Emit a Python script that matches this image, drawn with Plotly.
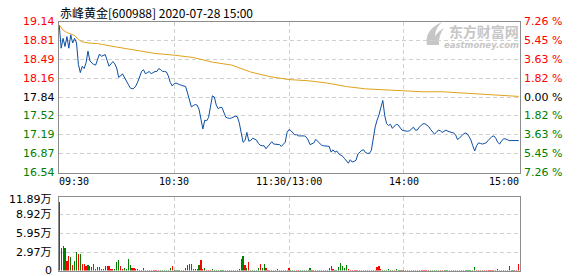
import plotly.graph_objects as go

# ---------------- data ----------------
title_text = "赤峰黄金[600988] 2020-07-28 15:00"
prev_close = 17.84
time_ticks = [0, 60, 120, 180, 240]
time_labels = ["09:30", "10:30", "11:30/13:00", "14:00", "15:00"]
price_ticks = [19.14, 18.81, 18.49, 18.16, 17.84, 17.52, 17.19, 16.87, 16.54]
pct_labels = ["7.26 %", "5.45 %", "3.63 %", "1.82 %", "0.00 %",
              "1.82 %", "3.63 %", "5.45 %", "7.26 %"]
vol_ticks = [0, 2.97, 5.95, 8.92, 11.89]
vol_labels = ["0", "2.97万", "5.95万", "8.92万", "11.89万"]

# minute-by-minute price, 09:30 .. 11:30 / 13:00 .. 15:00 (241 points)
price = [
    19.07, 18.68, 18.85, 18.71, 18.88, 18.68, 18.91, 18.77, 18.85, 18.77,
    18.40, 18.26, 18.37, 18.33, 18.43, 18.63, 18.46, 18.43, 18.40, 18.39,
    18.48, 18.58, 18.54, 18.56, 18.57, 18.47, 18.37, 18.41, 18.45, 18.41,
    18.34, 18.18, 18.20, 18.24, 18.17, 18.11, 18.06, 18.00, 17.98, 17.99,
    18.03, 18.10, 18.20, 18.28, 18.31, 18.24, 18.26, 18.28, 18.24, 18.26,
    18.28, 18.28, 18.33, 18.31, 18.28, 18.28, 18.27, 18.20, 18.09, 18.03,
    18.07, 18.08, 18.06, 18.05, 18.04, 18.03, 18.02, 17.91, 17.78, 17.67,
    17.69, 17.71, 17.70, 17.63, 17.46, 17.29, 17.44, 17.43, 17.49, 17.69,
    17.86, 17.84, 17.70, 17.64, 17.66, 17.66, 17.57, 17.49, 17.48, 17.47,
    17.48, 17.49, 17.51, 17.50, 17.40, 17.23, 17.06, 17.09, 17.23, 17.08,
    17.09, 17.13, 17.11, 17.10, 17.04, 17.01, 17.00, 17.00, 16.95, 16.99,
    17.05, 17.07, 17.03, 17.03, 17.03, 17.02, 16.99, 17.02, 17.06, 17.23,
    17.28, 17.26, 17.23, 17.19, 17.19, 17.17, 17.17, 17.17, 17.17, 17.15,
    17.10, 17.02, 17.03, 17.05, 17.11, 17.08, 17.05, 17.01, 17.00, 17.00,
    17.00, 16.99, 16.89, 16.93, 16.89, 16.91, 16.86, 16.84, 16.82, 16.78,
    16.73, 16.70, 16.76, 16.72, 16.73, 16.75, 16.86, 16.89, 16.92, 16.93,
    16.88, 16.87, 16.87, 16.92, 17.15, 17.32, 17.44, 17.53, 17.66, 17.78,
    17.52, 17.38, 17.35, 17.37, 17.30, 17.33, 17.37, 17.36, 17.32, 17.27,
    17.26, 17.25, 17.25, 17.26, 17.30, 17.32, 17.27, 17.27, 17.32, 17.36,
    17.38, 17.38, 17.36, 17.33, 17.28, 17.23, 17.20, 17.23, 17.27, 17.26,
    17.23, 17.25, 17.27, 17.25, 17.24, 17.23, 17.22, 17.19, 17.11, 17.13,
    17.17, 17.20, 17.22, 17.21, 17.16, 17.10, 17.00, 16.91, 17.00, 17.05,
    17.04, 17.03, 17.04, 17.05, 17.09, 17.12, 17.16, 17.17, 17.13, 17.06,
    17.03, 17.08, 17.12, 17.12, 17.10, 17.09, 17.09, 17.09, 17.09, 17.09,
    17.09,
]

# average-price line, read at these minutes
avg_minutes = [0, 2, 4, 6, 8, 10, 12, 15, 20, 30, 40, 50, 60, 70, 80, 90, 100,
               110, 120, 130, 140, 150, 160, 170, 180, 190, 200, 210, 220, 230, 240]
avg_price = [19.08, 18.99, 18.95, 18.93, 18.90, 18.83, 18.79, 18.77, 18.76, 18.70,
             18.64, 18.59, 18.56, 18.52, 18.44, 18.39, 18.27, 18.19, 18.14, 18.12,
             18.08, 18.02, 17.98, 17.96, 17.95, 17.93, 17.93, 17.91, 17.90, 17.88,
             17.85]

# minute volume in 万 shares
volume = [
    11.0, 3.6, 3.9, 3.6, 1.6, 2.4, 2.1, 0.9, 1.6, 2.9,
    2.7, 2.6, 1.1, 1.1, 0.8, 0.9, 0.8, 0.6, 1.0, 0.3,
    0.6, 0.6, 0.3, 0.3, 0.7, 0.8, 0.8, 0.2, 0.3, 0.3,
    1.3, 1.7, 0.8, 0.3, 0.45, 0.3, 1.9, 0.9, 0.45, 0.45,
    0.3, 0.3, 0.15, 0.15, 0.45, 0.15, 0.15, 0.15, 0.15, 0.15,
    0.15, 0.15, 0.15, 0.15, 0.15, 0.15, 0.15, 0.15, 0.45, 0.65,
    0.15, 0.15, 0.15, 0.15, 0.15, 0.15, 0.45, 0.9, 1.1, 1.1,
    0.3, 0.2, 0.3, 0.9, 1.75, 0.3, 0.45, 0.15, 0.15, 0.15,
    0.3, 0.15, 0.15, 0.15, 0.15, 0.15, 0.15, 0.15, 0.15, 0.15,
    0.15, 0.15, 0.15, 0.15, 0.3, 1.9, 2.4, 0.9, 0.45, 1.4,
    0.15, 0.15, 0.15, 0.15, 0.45, 1.1, 0.45, 1.1, 0.45, 0.15,
    0.15, 0.15, 0.15, 0.15, 0.3, 0.15, 0.15, 0.15, 0.15, 0.15,
    0.45, 0.15, 0.15, 0.15, 0.15, 0.15, 0.15, 0.15, 0.15, 0.15,
    0.15, 0.45, 0.15, 0.15, 0.15, 0.15, 0.15, 0.15, 0.15, 0.15,
    0.15, 0.45, 0.8, 0.3, 0.15, 0.15, 0.6, 1.15, 0.65, 0.45,
    0.9, 0.3, 0.15, 0.15, 0.15, 0.15, 0.15, 0.15, 0.15, 0.15,
    0.15, 0.15, 0.15, 0.15, 0.15, 0.15, 0.6, 0.8, 0.3, 0.15,
    0.15, 0.15, 0.3, 0.15, 0.15, 0.15, 0.3, 0.15, 0.15, 0.15,
    0.15, 0.15, 0.15, 0.15, 0.15, 0.15, 0.15, 0.15, 0.15, 0.15,
    0.15, 0.15, 0.15, 0.15, 0.15, 0.15, 0.15, 0.15, 0.15, 0.15,
    0.15, 0.15, 0.15, 0.15, 0.15, 0.15, 0.15, 0.15, 0.15, 0.15,
    0.15, 0.15, 0.15, 0.15, 0.15, 0.15, 0.15, 0.5, 0.15, 0.15,
    0.15, 0.15, 0.15, 0.15, 0.15, 0.15, 0.15, 0.15, 0.15, 0.3,
    0.15, 0.15, 0.15, 0.15, 0.15, 0.65, 0.15, 0.15, 0.15, 0.15,
    1.1,
]
# 1 = price up (red), -1 = price down (green)
vol_dir = [
    -1, 1, 1, -1, 1, 1, -1, 1, -1, -1,
    1, -1, 1, 1, 1, -1, 1, -1, -1, 1,
    1, 1, 1, 1, -1, 1, 1, 1, 1, -1,
    -1, -1, 1, 1, -1, -1, -1, -1, 1, 1,
    1, 1, 1, 1, -1, -1, 1, 1, 1, 1,
    1, 1, 1, -1, -1, -1, -1, -1, -1, 1,
    -1, -1, -1, -1, 1, 1, -1, -1, -1, 1,
    1, -1, -1, -1, 1, 1, -1, 1, 1, 1,
    -1, -1, -1, -1, -1, -1, -1, 1, 1, 1,
    1, 1, 1, -1, -1, -1, -1, 1, -1, 1,
    -1, -1, -1, -1, -1, 1, -1, -1, 1, 1,
    1, -1, -1, 1, 1, -1, 1, 1, 1, 1,
    1, -1, -1, -1, 1, 1, -1, -1, -1, -1,
    -1, -1, 1, 1, -1, -1, -1, 1, 1, 1,
    1, -1, -1, 1, -1, -1, -1, -1, -1, -1,
    -1, 1, 1, 1, 1, 1, 1, 1, -1, -1,
    1, 1, 1, 1, 1, 1, 1, 1, 1, -1,
    -1, -1, -1, -1, -1, 1, -1, -1, -1, 1,
    1, 1, 1, 1, -1, -1, -1, -1, -1, -1,
    1, 1, 1, 1, -1, -1, -1, -1, -1, 1,
    1, -1, -1, -1, -1, -1, -1, 1, 1, 1,
    1, -1, -1, -1, -1, -1, -1, -1, 1, 1,
    -1, 1, 1, 1, 1, 1, 1, 1, -1, -1,
    1, 1, 1, -1, -1, -1, 1, -1, 1, 1,
    1,
]

# ---------------- styling / layout ----------------
W, H = 578, 276
RED, GREEN, BLACK = "#ff0000", "#008000", "#000000"
GRID = "#d0d0d0"
BORDER = "#8c8c8c"
WM = "#c6c6c6"
LABEL_FONT = "DejaVu Sans"

px_l, px_r = 58.5, 519.5
x_dom = [px_l / W, px_r / W]
price_dom = [(H - 172.5) / H, (H - 21.5) / H]
vol_dom = [(H - 270.5) / H, (H - 196.5) / H]
x_range = [-0.4, 240.4]

minutes = list(range(len(price)))

fig = go.Figure()
fig.add_trace(go.Scatter(x=avg_minutes, y=avg_price, mode="lines",
                         line=dict(color="#e0a21c", width=1),
                         hoverinfo="skip", xaxis="x", yaxis="y"))
fig.add_trace(go.Scatter(x=minutes, y=price, mode="lines",
                         line=dict(color="#0c4ea2", width=1),
                         hoverinfo="skip", xaxis="x", yaxis="y"))
fig.add_trace(go.Bar(x=minutes, y=volume, width=0.6,
                     marker=dict(color=[RED if d > 0 else GREEN for d in vol_dir],
                                 line=dict(width=0)),
                     hoverinfo="skip", xaxis="x2", yaxis="y2"))

axis_common = dict(showline=True, mirror=True, linecolor=BORDER, linewidth=1,
                   zeroline=False, ticks="", showticklabels=False,
                   showgrid=True, gridcolor=GRID, gridwidth=1, griddash="4px,3px",
                   fixedrange=True)


def P(xpx, ypx):
    return f"{xpx / W:.5f},{1 - ypx / H:.5f}"


# watermark logo (decorative swoosh)
logo_path = ("M " + P(427, 45) + " Q " + P(424, 30) + " " + P(442, 22)
             + " Q " + P(432, 31) + " " + P(436, 45) + " Z")
logo_path2 = ("M " + P(432, 45) + " Q " + P(433, 34) + " " + P(444, 28)
              + " Q " + P(438, 36) + " " + P(439, 45) + " Z")

fig.update_layout(
    width=W, height=H,
    margin=dict(l=0, r=0, t=0, b=0),
    paper_bgcolor="white", plot_bgcolor="white",
    showlegend=False, bargap=0,
    xaxis=dict(domain=x_dom, range=x_range, anchor="y",
               tickvals=time_ticks[1:-1], **axis_common),
    yaxis=dict(domain=price_dom, range=[price_ticks[-1], price_ticks[0]], anchor="x",
               tickvals=price_ticks[1:-1], **axis_common),
    xaxis2=dict(domain=x_dom, range=x_range, anchor="y2",
                tickvals=time_ticks[1:-1], **axis_common),
    yaxis2=dict(domain=vol_dom, range=[vol_ticks[0], vol_ticks[-1]], anchor="x2",
                tickvals=vol_ticks[1:-1], **axis_common),
    shapes=[
        dict(type="path", xref="paper", yref="paper", path=logo_path,
             fillcolor=WM, line=dict(width=0), layer="below"),
        dict(type="path", xref="paper", yref="paper", path=logo_path2,
             fillcolor=WM, line=dict(width=0), layer="below"),
    ],
)

ann = []
# title
ann.append(dict(text=title_text, xref="paper", yref="paper",
                x=57.5 / W, y=1 - 1.5 / H, xanchor="left", yanchor="top",
                showarrow=False,
                font=dict(family="Noto Sans CJK SC", size=12, color=BLACK)))

# price labels (left) and percent labels (right)
for v, pl in zip(price_ticks, pct_labels):
    col = RED if v > prev_close + 1e-9 else (BLACK if abs(v - prev_close) < 1e-9 else GREEN)
    ann.append(dict(text=f"{v:.2f}", xref="paper", yref="y", x=57 / W, y=v,
                    xanchor="right", yanchor="middle", showarrow=False,
                    font=dict(family=LABEL_FONT, size=11, color=col)))
    ann.append(dict(text=pl, xref="paper", yref="y", x=521.5 / W, y=v,
                    xanchor="left", yanchor="middle", showarrow=False,
                    font=dict(family=LABEL_FONT, size=11, color=col)))

# time labels
for i, (t, lab) in enumerate(zip(time_ticks, time_labels)):
    if i == 0:
        xa, xr, xv = "left", "paper", (px_l - 2) / W
    elif i == len(time_ticks) - 1:
        xa, xr, xv = "right", "paper", (px_r + 1.5) / W
    else:
        xa, xr, xv = "center", "x", t
    ann.append(dict(text=lab, xref=xr, yref="paper", x=xv, y=(H - 174) / H,
                    xanchor=xa, yanchor="top", showarrow=False,
                    font=dict(family="DejaVu Sans Mono", size=10, color=BLACK)))

# volume labels
for v, lab in zip(vol_ticks, vol_labels):
    ys = -3 if v == vol_ticks[-1] else 0
    ann.append(dict(text=lab, xref="paper", yref="y2", x=54 / W, y=v, yshift=ys,
                    xanchor="right", yanchor="middle", showarrow=False,
                    font=dict(family="DejaVu Sans, Noto Sans CJK SC", size=11, color=BLACK)))

# watermark text (two lines in one annotation)
ann.append(dict(text=('<span style="font-size:14px;font-family:Noto Sans CJK SC">'
                      '<b>东方财富网</b></span><br><b><i>eastmoney.com</i></b>'),
                xref="paper", yref="paper",
                x=520 / W, y=1 - 35.5 / H, xanchor="right", yanchor="middle",
                align="right", showarrow=False, borderpad=0,
                font=dict(family="DejaVu Sans", size=8.5, color=WM)))

fig.update_layout(annotations=ann)

fig.write_html("out.html", config={"displayModeBar": False, "staticPlot": True})
